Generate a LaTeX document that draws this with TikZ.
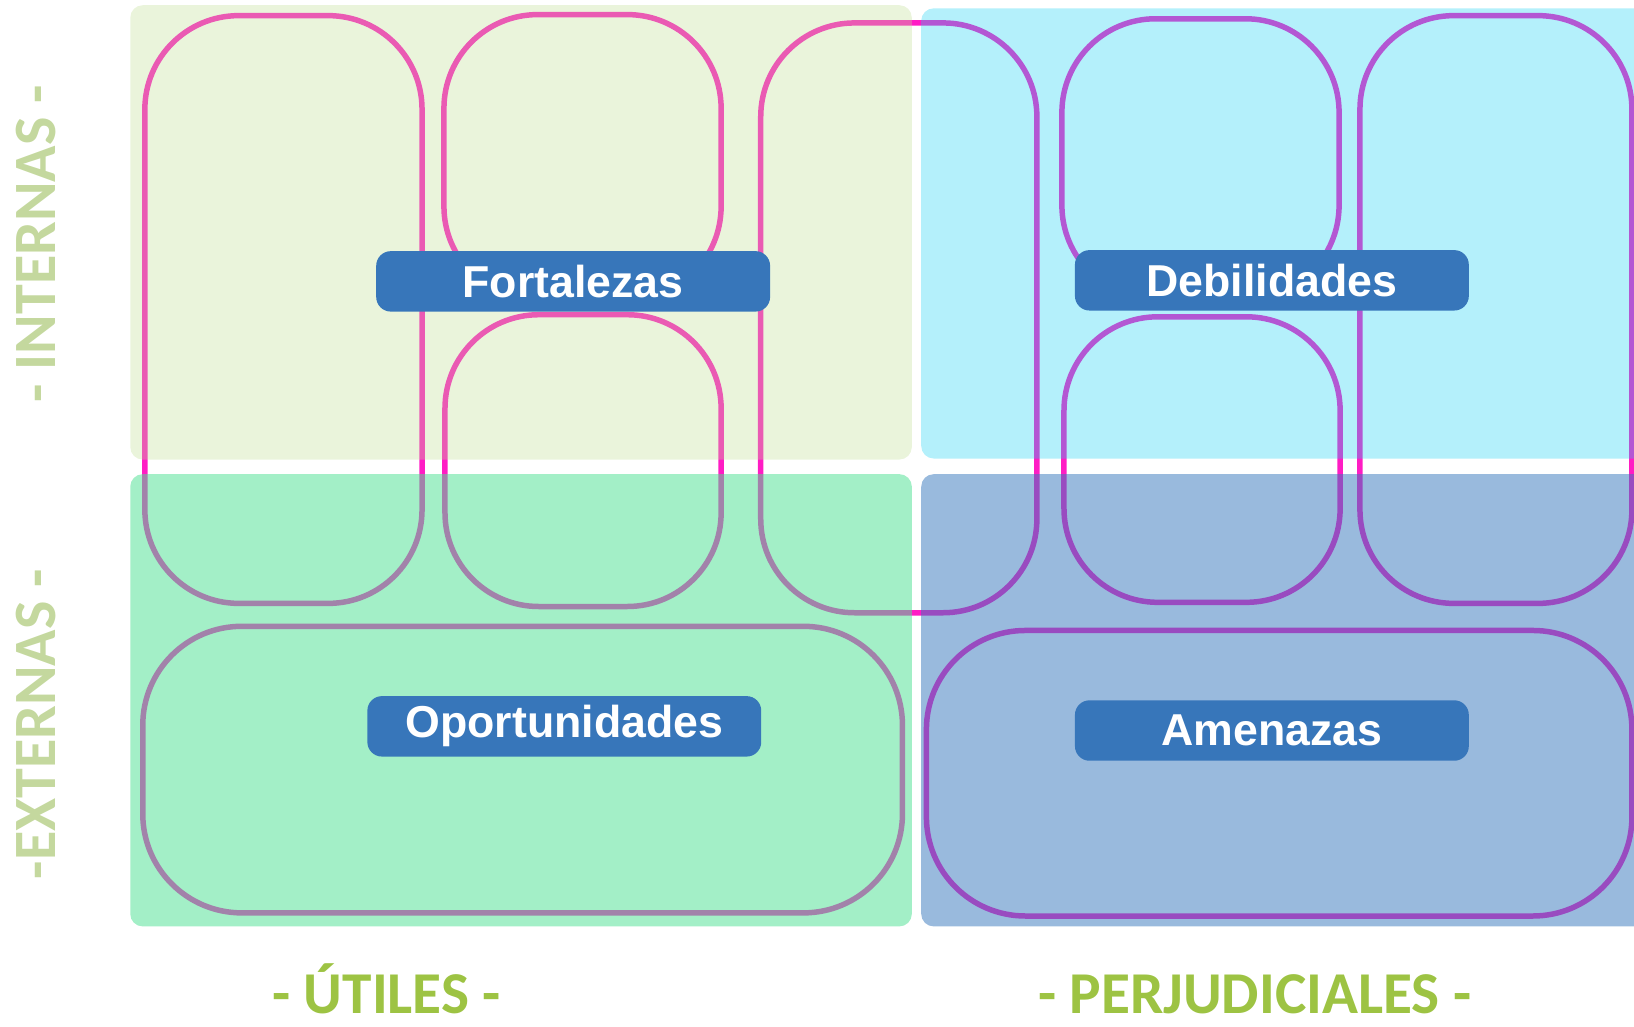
\documentclass[tikz,border=0pt]{standalone}
\usepackage{fontspec}
\newfontfamily\boxfont{Liberation Sans}
\newfontfamily\axisfont{Carlito}
\definecolor{magline}{RGB}{255,28,196}
\definecolor{tlfill}{RGB}{190,222,144}
\definecolor{trfill}{RGB}{27,209,242}
\definecolor{blfill}{RGB}{78,224,147}
\definecolor{brfill}{RGB}{57,121,189}
\definecolor{tagblue}{RGB}{55,118,186}
\definecolor{sidegreen}{RGB}{196,216,158}
\definecolor{footgreen}{RGB}{157,195,67}
\begin{document}
\begin{tikzpicture}[scale=0.1]
	\tikzstyle{every node}+=[inner sep=0pt]
	\tikzstyle{ring}=[magline, line width=1.5pt, rounded corners=9mm]
	\tikzstyle{quad}=[rounded corners=1.2mm]
	\tikzstyle{tagbox}=[fill=tagblue, rounded corners=1.4mm, minimum width=37.8mm, minimum height=5.8mm, text=white, font=\boxfont\bfseries\fontsize{12.2}{14}\selectfont]
	\tikzstyle{sidetext}=[text=sidegreen, rotate=90, anchor=base, font=\axisfont\bfseries\fontsize{16.4}{20}\selectfont]
	\tikzstyle{foottext}=[text=footgreen, anchor=base, font=\axisfont\bfseries\fontsize{16.2}{20}\selectfont]
	\clip (0,0) rectangle (156.8,-98.5);
	% rings, left half
	\draw [ring] (13.9,-1.5) rectangle (40.5,-57.9);
	\draw [ring] (42.6,-1.4) rectangle (69.2,-28.8);
	\draw [ring] (42.7,-30.2) rectangle (69.2,-58.2);
	\draw [ring] (73,-2.2) rectangle (99.5,-58.8);
	\draw [ring, rounded corners=9.5mm] (13.7,-60.1) rectangle (86.6,-87.6);
	% rings, right half
	\draw [ring] (101.9,-1.8) rectangle (128.5,-28.7);
	\draw [ring] (102.1,-30.4) rectangle (128.6,-57.8);
	\draw [ring] (130.5,-1.5) rectangle (156.6,-57.9);
	\draw [ring, rounded corners=9.5mm] (88.9,-60.5) rectangle (156.6,-87.9);
	% quadrants
	\fill [quad, tlfill, opacity=0.32] (12.5,-0.5) rectangle (87.5,-44.1);
	\fill [quad, trfill, opacity=0.33] (88.4,-0.8) rectangle (160,-44);
	\fill [quad, blfill, opacity=0.52] (12.5,-45.5) rectangle (87.5,-88.9);
	\fill [quad, brfill, opacity=0.515] (88.4,-45.5) rectangle (160,-88.9);
	% labels
	\node [tagbox] (fort) at (55,-27) {Fortalezas};
	\node [tagbox] (debil) at (122.05,-26.9) {Debilidades};
	\node [tagbox] (oport) at (54.15,-69.7) {Oportunidades};
	\node [tagbox] (amen) at (122.05,-70.1) {Amenazas};
	\node [sidetext] (intern) at (5.3,-23.4) {- INTERNAS -};
	\node [sidetext] (extern) at (5.3,-69.5) {-EXTERNAS -};
	\node [foottext] (util) at (37.1,-97.3) {- ÚTILES -};
	\node [foottext] (perj) at (120.4,-97.3) {- PERJUDICIALES -};
\end{tikzpicture}
\end{document}
